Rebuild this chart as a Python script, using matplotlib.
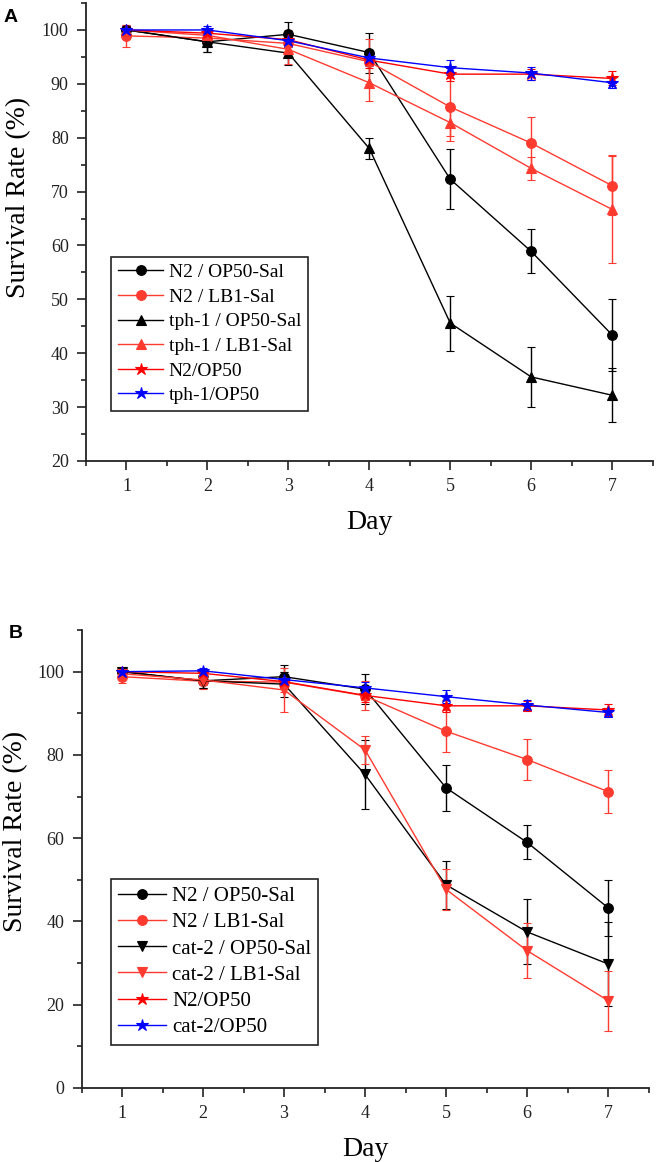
import numpy as np
import matplotlib
matplotlib.use("Agg")
import matplotlib.pyplot as plt
from matplotlib.ticker import MultipleLocator

# ==============================================================================
# DATA
# ==============================================================================
days = [1, 2, 3, 4, 5, 6, 7]

# Panel A
a_labels = ["N2 / OP50-Sal", "N2 / LB1-Sal", "tph-1 / OP50-Sal",
            "tph-1 / LB1-Sal", "N2/OP50", "tph-1/OP50"]
a_n2_op50sal = [100, 97.8, 99.2, 95.8, 72.3, 58.9, 43.4]
a_n2_op50sal_err = [0.8, 1.8, 2.3, 3.7, 5.6, 4.1, 6.7]
a_n2_lb1sal = [98.9, 98.5, 97.5, 94.1, 85.7, 79.0, 71.1]
a_n2_lb1sal_err = [2.0, 1.2, 2.5, 4.2, 5.3, 4.8, 5.5]
a_tph_op50sal = [100, 97.8, 95.7, 78.0, 45.6, 35.6, 32.2]
a_tph_op50sal_err = [0.8, 1.8, 2.2, 1.9, 5.1, 5.6, 5.0]
a_tph_lb1sal = [100, 99.0, 96.4, 90.2, 82.8, 74.3, 66.7]
a_tph_lb1sal_err = [1.0, 1.2, 2.8, 3.4, 3.5, 2.1, 10.0]
a_n2_op50 = [100, 99.4, 98.2, 94.4, 91.8, 91.8, 91.0]
a_n2_op50_err = [0.8, 1.0, 1.2, 1.5, 1.2, 1.0, 1.3]
a_tph_op50 = [100, 100, 98.0, 94.8, 93.0, 92.0, 90.2]
a_tph_op50_err = [0.8, 0.8, 1.2, 1.5, 1.4, 1.2, 1.0]

# Panel B
b_labels = ["N2 / OP50-Sal", "N2 / LB1-Sal", "cat-2 / OP50-Sal",
            "cat-2 / LB1-Sal", "N2/OP50", "cat-2/OP50"]
b_n2_op50sal = [100, 97.8, 98.8, 95.8, 72.1, 59.0, 43.3]
b_n2_op50sal_err = [0.8, 1.8, 2.8, 3.6, 5.6, 4.1, 6.7]
b_n2_lb1sal = [98.8, 97.7, 97.5, 94.2, 85.7, 78.9, 71.2]
b_n2_lb1sal_err = [1.6, 1.9, 2.5, 3.5, 5.1, 5.0, 5.1]
b_cat_op50sal = [100, 97.8, 97.0, 75.3, 48.8, 37.5, 29.8]
b_cat_op50sal_err = [0.8, 1.8, 3.0, 8.4, 5.8, 7.8, 10.1]
b_cat_lb1sal = [99.5, 98.0, 95.6, 81.2, 47.7, 33.0, 21.0]
b_cat_lb1sal_err = [1.0, 1.2, 5.2, 3.4, 5.0, 6.7, 7.2]
b_n2_op50 = [100, 99.6, 97.6, 94.3, 91.8, 91.8, 90.8]
b_n2_op50_err = [0.8, 1.0, 1.5, 1.5, 1.5, 1.2, 1.4]
b_cat_op50 = [100, 100.2, 98.1, 96.1, 94.0, 92.0, 90.2]
b_cat_op50_err = [0.8, 0.8, 1.2, 1.4, 1.6, 1.2, 1.0]

# ==============================================================================
# STYLE
# ==============================================================================
plt.rcParams["font.family"] = ["Liberation Serif", "DejaVu Serif"]

BLACK = "#000000"
LRED = "#ff3b30"     # LB1-Sal series
RED = "#ff0000"
BLUE = "#0000ff"


def draw(ax, series, ymin, ymax, ymajor, yminor, label_x, label_y,
         leg_anchor, leg_fs, leg_space):
    handles = []
    for vals, err, color, marker, ms, lab in series:
        cont = ax.errorbar(days, vals, yerr=err, color=color, marker=marker,
                           markersize=ms, lw=1.0, elinewidth=1.0, capsize=3.0,
                           capthick=1.0, label=lab, markeredgewidth=0.8)
        handles.append(cont[0])
    ax.set_xlim(0.5, 7.5)
    ax.set_ylim(ymin, ymax)
    ax.xaxis.set_major_locator(MultipleLocator(1))
    ax.xaxis.set_minor_locator(MultipleLocator(0.5))
    ax.yaxis.set_major_locator(MultipleLocator(ymajor))
    ax.yaxis.set_minor_locator(MultipleLocator(yminor))
    ax.set_xticks(days)
    for s in ("top", "right"):
        ax.spines[s].set_visible(False)
    for s in ("left", "bottom"):
        ax.spines[s].set_linewidth(1.3)
        ax.spines[s].set_color("#222222")
    ax.tick_params(which="major", direction="out", length=6.5, width=1.2,
                   labelsize=13, pad=6, colors="#222222")
    ax.tick_params(which="minor", direction="out", length=3.8, width=1.2,
                   colors="#222222")
    ax.set_xlabel("Day", fontsize=20)
    ax.xaxis.set_label_coords(0.5, -0.108)
    ax.set_ylabel("Survival Rate (%)", fontsize=20)
    ax.yaxis.set_label_coords(label_x, label_y)
    leg = ax.legend(handles=handles, labels=[s[5] for s in series],
                    loc="upper left", bbox_to_anchor=leg_anchor,
                    borderaxespad=0, fontsize=leg_fs, frameon=True,
                    fancybox=False, edgecolor="#222222", framealpha=1,
                    handlelength=2.3, handletextpad=0.3,
                    labelspacing=leg_space, borderpad=0.35)
    leg.get_frame().set_linewidth(1.2)


fig = plt.figure(figsize=(6.56, 11.62), dpi=100)
axA = fig.add_axes([0.1311, 0.6033, 0.8637, 0.3941])
axB = fig.add_axes([0.1244, 0.0637, 0.8642, 0.3941])

series_a = [
    (a_n2_op50sal, a_n2_op50sal_err, BLACK, "o", 7, a_labels[0]),
    (a_n2_lb1sal, a_n2_lb1sal_err, LRED, "o", 7, a_labels[1]),
    (a_tph_op50sal, a_tph_op50sal_err, BLACK, "^", 7.5, a_labels[2]),
    (a_tph_lb1sal, a_tph_lb1sal_err, LRED, "^", 7.5, a_labels[3]),
    (a_n2_op50, a_n2_op50_err, RED, "*", 9, a_labels[4]),
    (a_tph_op50, a_tph_op50_err, BLUE, "*", 9, a_labels[5]),
]
series_b = [
    (b_n2_op50sal, b_n2_op50sal_err, BLACK, "o", 7, b_labels[0]),
    (b_n2_lb1sal, b_n2_lb1sal_err, LRED, "o", 7, b_labels[1]),
    (b_cat_op50sal, b_cat_op50sal_err, BLACK, "v", 7.5, b_labels[2]),
    (b_cat_lb1sal, b_cat_lb1sal_err, LRED, "v", 7.5, b_labels[3]),
    (b_n2_op50, b_n2_op50_err, RED, "*", 9, b_labels[4]),
    (b_cat_op50, b_cat_op50_err, BLUE, "*", 9, b_labels[5]),
]

draw(axA, series_a, 20, 105, 10, 5, -0.097, 0.575, (0.045, 0.446), 14, 0.36)
draw(axB, series_b, 0, 110, 20, 10, -0.095, 0.561, (0.051, 0.456), 15, 0.32)

fig.text(4 / 656, 1 - 22 / 1162, "A", fontsize=14, fontweight="bold",
         family="Liberation Sans")
fig.text(9 / 656, 1 - 638 / 1162, "B", fontsize=14, fontweight="bold",
         family="Liberation Sans")

fig.savefig("out.png", dpi=100)
